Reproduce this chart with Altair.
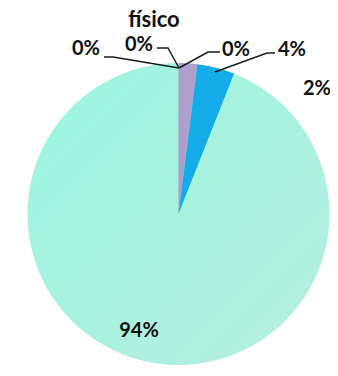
import altair as alt
import pandas as pd

# data
categories = ["A", "B", "C"]
values = [2, 4, 94]
colors = ["#AE9FCC", "#14ACE8", "rgba(0,0,0,0)"]

label_texts = ["0%", "0%", "0%", "4%", "2%", "94%"]
label_x = [78, 131, 228, 284, 309, 131]
label_y = [41, 37, 42, 42, 81, 323]

# leader lines (annotation polylines, plot pixel coords)
line_id = [1, 1, 1, 2, 2, 2, 3, 3, 3, 4, 4, 4]
line_ord = [0, 1, 2, 0, 1, 2, 0, 1, 2, 0, 1, 2]
line_x = [96, 105, 171, 149, 160, 171, 212, 200, 171, 267, 259, 207]
line_y = [49, 49, 60, 40, 40, 60, 44, 44, 60, 45, 45, 64]

CX, CY, R = 170.5, 206, 151

df = pd.DataFrame({"cat": categories, "value": values, "order": [0, 1, 2]})
shadow_df = pd.DataFrame({"cat": ["s"], "value": [1]})
lab_df = pd.DataFrame({"t": label_texts, "x": label_x, "y": label_y})
line_df = pd.DataFrame({"id": line_id, "o": line_ord, "x": line_x, "y": line_y})

shadow = alt.Chart(shadow_df).mark_arc(
    radius=R + 1, fill="#4E6E66", opacity=0.85
).encode(
    theta=alt.Theta("value:Q"),
    x=alt.value(CX), y=alt.value(CY + 7),
)

mint = alt.LinearGradient(
    gradient="linear", x1=0, y1=0, x2=1, y2=1,
    stops=[alt.GradientStop(offset=0, color="#9BF6E2"),
           alt.GradientStop(offset=1, color="#B6EEDE")],
)

base_pie = alt.Chart(df).mark_arc(radius=R, stroke=None, fill=mint).encode(
    theta=alt.Theta("value:Q", stack=True),
    order=alt.Order("order:Q"),
    x=alt.value(CX), y=alt.value(CY),
)

pie = alt.Chart(df).mark_arc(radius=R, stroke=None).encode(
    theta=alt.Theta("value:Q", stack=True),
    order=alt.Order("order:Q"),
    color=alt.Color("cat:N", scale=alt.Scale(domain=categories, range=colors), legend=None),
    x=alt.value(CX), y=alt.value(CY),
)

lines = alt.Chart(line_df).mark_line(color="#1A1A1A", strokeWidth=1.5).encode(
    x=alt.X("x:Q", scale=None),
    y=alt.Y("y:Q", scale=None),
    detail="id:N",
    order="o:Q",
)

labels = alt.Chart(lab_df).mark_text(
    font="Lato", fontWeight="bold", fontSize=20, color="#111111",
    align="center", baseline="middle"
).encode(
    x=alt.X("x:Q", scale=None),
    y=alt.Y("y:Q", scale=None),
    text="t:N",
)

title = alt.Chart(pd.DataFrame({"t": ["físico"]})).mark_text(
    font="Lato", fontWeight="bold", fontSize=22, color="#111111",
    align="center", baseline="middle"
).encode(x=alt.value(146), y=alt.value(12), text="t:N")

chart = alt.layer(shadow, base_pie, pie, lines, labels, title).properties(
    width=322, height=360,
    autosize=alt.AutoSizeParams(type="none"),
    padding=0,
).configure_view(stroke=None)

chart.save("out.html", embed_options={"renderer": "svg", "actions": False})
